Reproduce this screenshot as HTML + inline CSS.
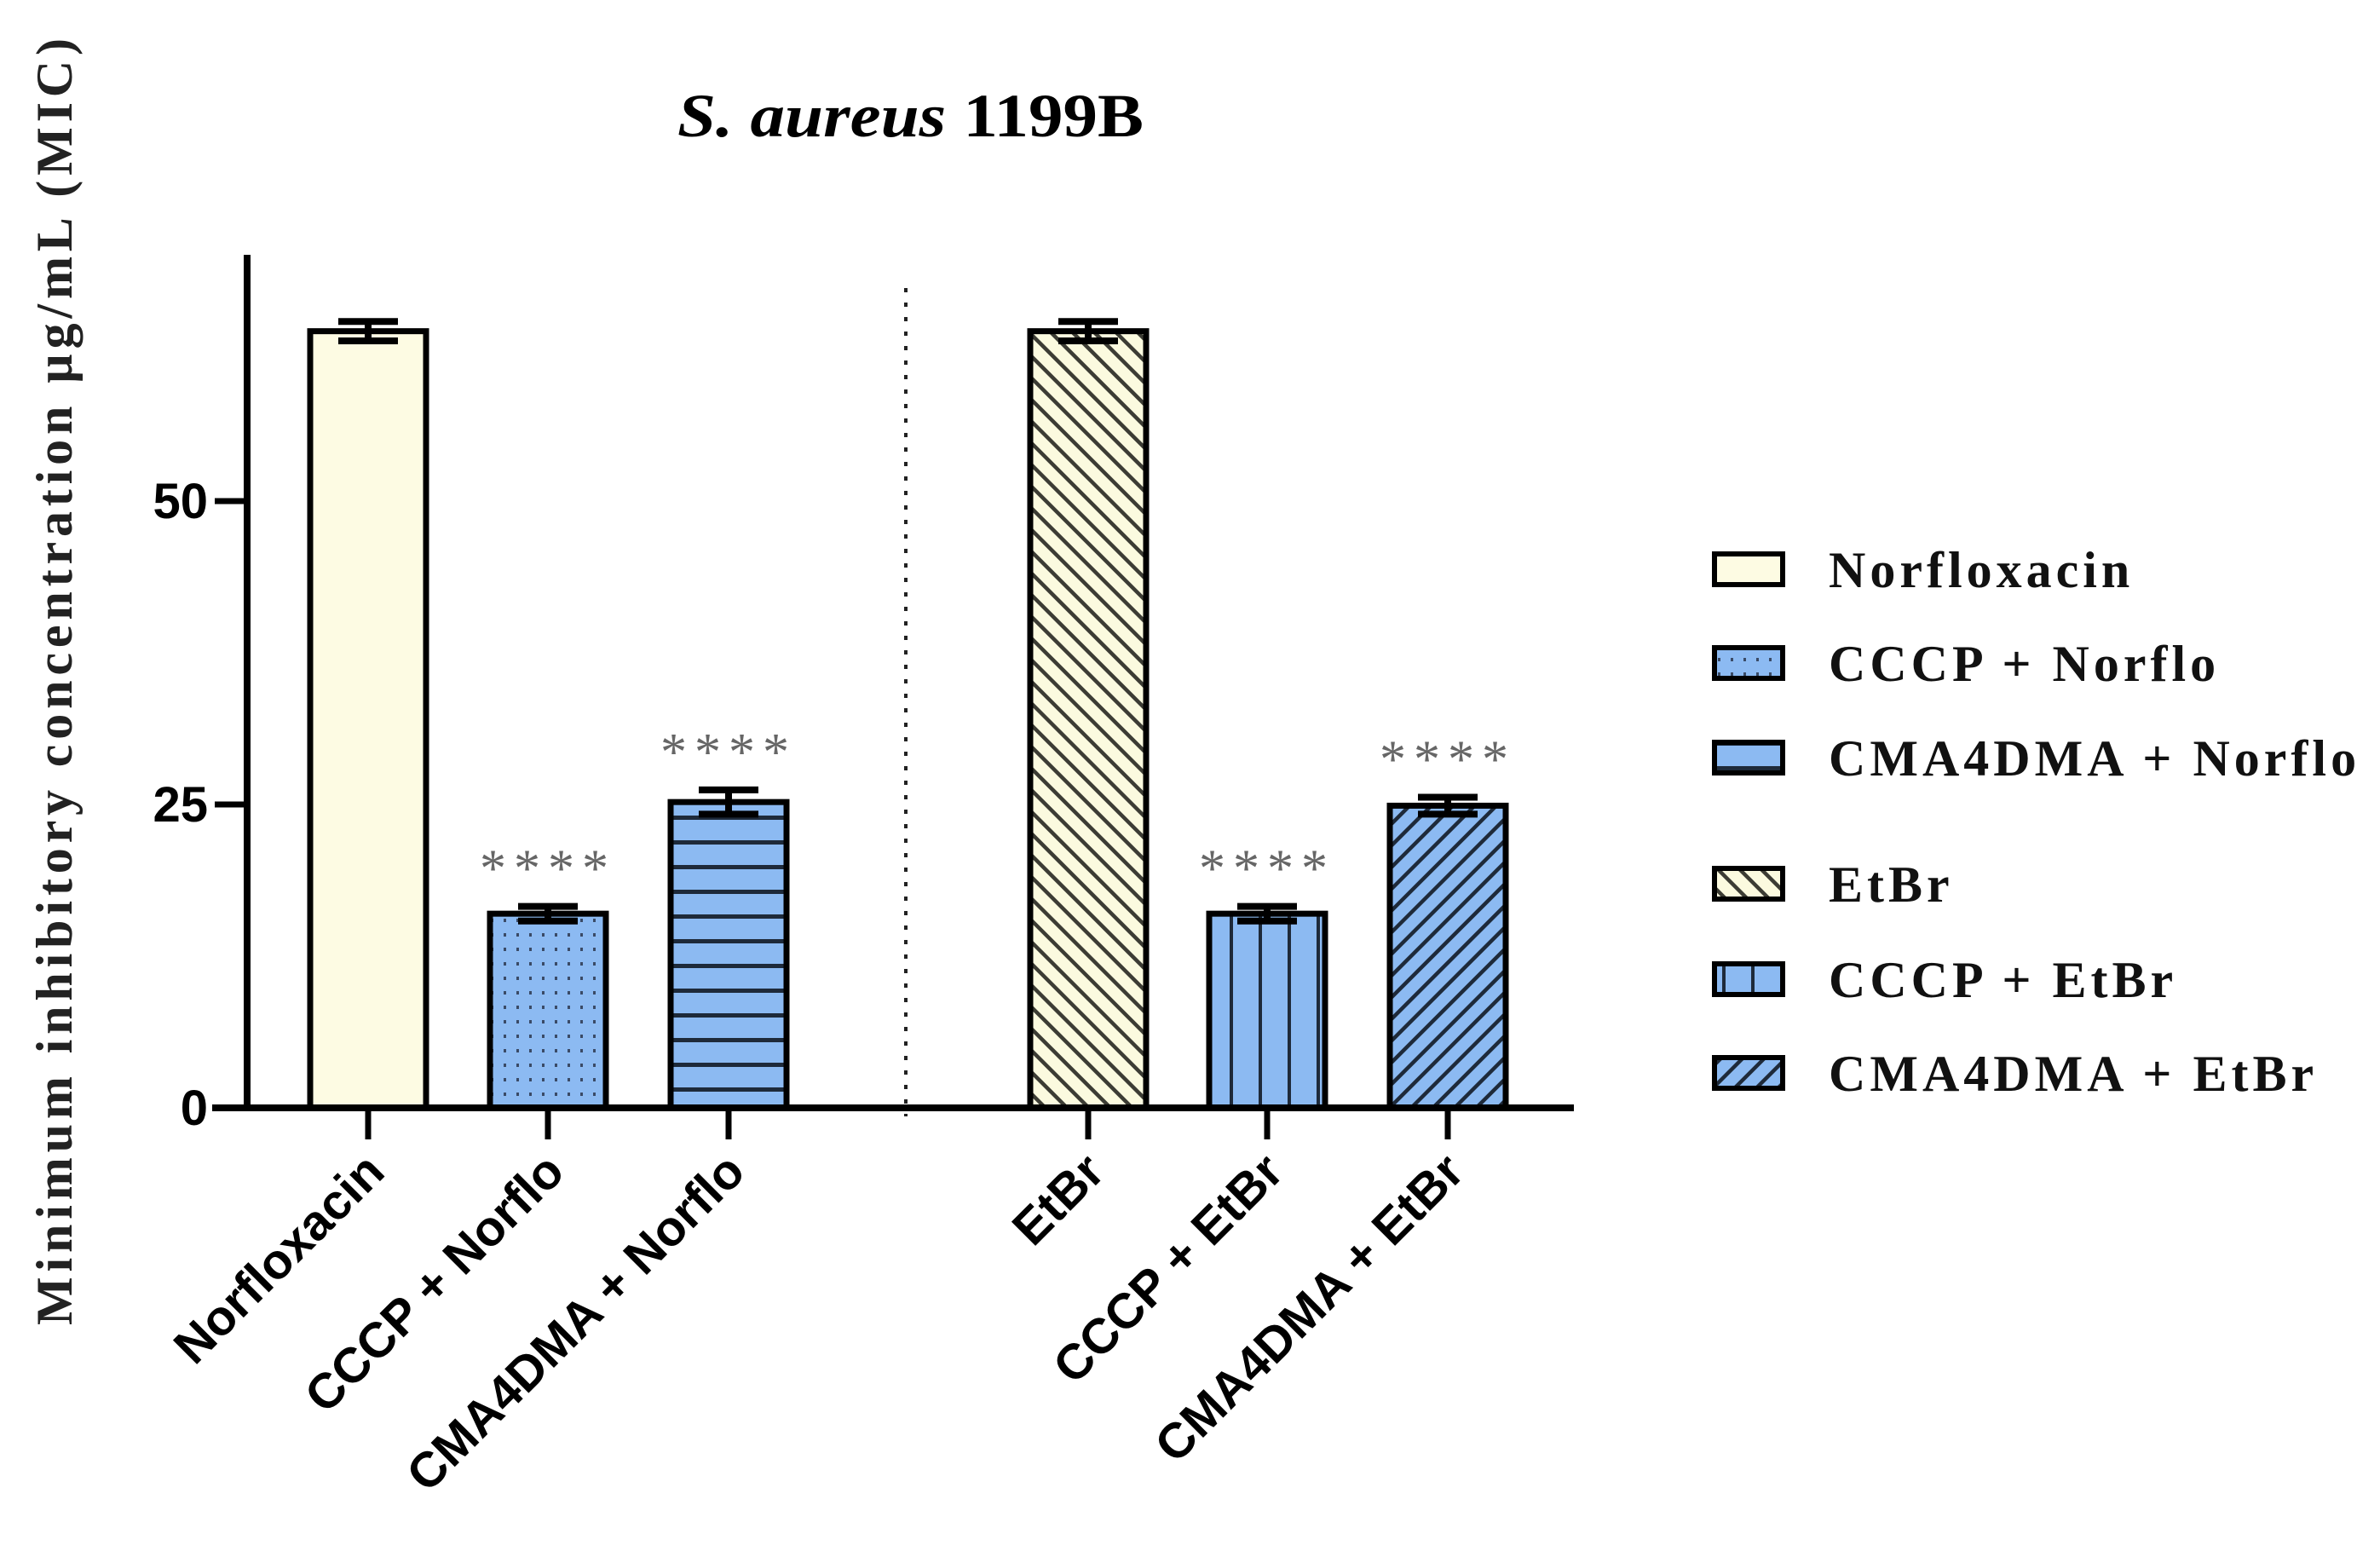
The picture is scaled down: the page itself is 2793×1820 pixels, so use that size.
<!DOCTYPE html>
<html><head><meta charset="utf-8"><style>
html,body{margin:0;padding:0;background:#fff;}
svg{display:block;}
</style></head><body>
<svg id="chart" width="2793" height="1820" viewBox="0 0 2793 1820" xmlns="http://www.w3.org/2000/svg">
<defs>
<pattern id="p-dots" patternUnits="userSpaceOnUse" width="15" height="17"><rect width="15" height="17" fill="#8cbaf2"/><rect x="6" y="7" width="3" height="4" fill="#3a4a66"/></pattern>
<pattern id="p-hlines" patternUnits="userSpaceOnUse" width="20" height="29"><rect width="20" height="29" fill="#8cbaf2"/><rect y="0" width="20" height="5" fill="#1e2a3a"/></pattern>
<pattern id="p-vlines" patternUnits="userSpaceOnUse" width="34" height="20"><rect width="34" height="20" fill="#8cbaf2"/><rect x="15" width="4" height="20" fill="#1e2a3a"/></pattern>
<pattern id="p-back" patternUnits="userSpaceOnUse" width="18" height="18" patternTransform="rotate(-45)"><rect width="18" height="18" fill="#fbfadf"/><rect width="4.5" height="18" fill="#3c3c34"/></pattern>
<pattern id="p-fwd" patternUnits="userSpaceOnUse" width="18" height="18" patternTransform="rotate(45)"><rect width="18" height="18" fill="#8cbaf2"/><rect width="4.5" height="18" fill="#1e2a3a"/></pattern>
</defs>
<g id="plot"></g>
</svg>
<script>
const categories = ["Norfloxacin","CCCP + Norflo","CMA4DMA + Norflo","EtBr","CCCP + EtBr","CMA4DMA + EtBr"];
const values = [64, 16, 25.2, 64, 16, 24.9];
const errors = [0.8, 0.6, 1.0, 0.8, 0.6, 0.7];
const stars = ["", "****", "****", "", "****", "****"];
const fills = ["#fdfbe3","url(#p-dots)","url(#p-hlines)","url(#p-back)","url(#p-vlines)","url(#p-fwd)"];
const yTicks = [0, 25, 50];

const NS = "http://www.w3.org/2000/svg";
const g = document.getElementById('plot');
const y0 = 1300, pxPerUnit = 14.24;
function yScale(v){ return y0 - v*pxPerUnit; }
const xCenters = [432, 643, 855, 1277, 1487, 1699];
function xScale(i){ return xCenters[i]; }
const barW = 136;
function mk(tag, attrs, parent){ const e=document.createElementNS(NS,tag); for(const k in attrs) e.setAttribute(k,attrs[k]); (parent||g).appendChild(e); return e; }

let t = mk('text',{x:795,y:160,'font-family':'Liberation Serif, serif','font-size':72,'font-weight':'bold',textLength:547,lengthAdjust:'spacingAndGlyphs'});


const it = document.createElementNS(NS,'tspan'); it.setAttribute('font-style','italic'); it.textContent='S. aureus '; t.appendChild(it);
const nt = document.createElementNS(NS,'tspan'); nt.textContent='1199B'; t.appendChild(nt);

let yt = mk('text',{x:0,y:0,transform:'translate(84,800) rotate(-90)','text-anchor':'middle','font-family':'Liberation Serif, serif','font-size':60,'font-weight':'bold',fill:'#222',textLength:1510,lengthAdjust:'spacing'});


yt.textContent='Minimum inhibitory concentration µg/mL (MIC)';

let dv = mk('line',{x1:1063,y1:338,x2:1063,y2:1310,stroke:'#222','stroke-width':4,'stroke-dasharray':'5 12'});



categories.forEach((c,i)=>{
  const x = xScale(i)-barW/2, top=yScale(values[i]);
  const r = mk('rect',{x:x,y:top,width:barW,height:y0-top,fill:fills[i],stroke:'#000','stroke-width':7});
  
  
  const eh = yScale(values[i]+errors[i]), el = yScale(values[i]-errors[i]);
  const eb = mk('path',{d:`M${xScale(i)} ${eh} V${el} M${xScale(i)-35} ${eh} H${xScale(i)+35} M${xScale(i)-35} ${el} H${xScale(i)+35}`,stroke:'#000','stroke-width':8,fill:'none'});
  
  
  if(stars[i]){
    const s = mk('text',{x:xScale(i),y:eh-24,'text-anchor':'middle','font-family':'Liberation Serif, serif','font-size':62,fill:'#666','letter-spacing':9});
    
    
    s.textContent=stars[i];
  }
  const tk = mk('line',{x1:xScale(i),y1:y0,x2:xScale(i),y2:1337,stroke:'#000','stroke-width':7});
  
  
  const lb = mk('text',{x:0,y:0,transform:`translate(${xScale(i)+22},1378) rotate(-45)`,'text-anchor':'end','font-family':'Liberation Sans, sans-serif','font-size':58,'font-weight':'bold'});
  
  
  lb.textContent=c;
});

let ya = mk('line',{x1:290,y1:299,x2:290,y2:1304,stroke:'#000','stroke-width':8});


let xa = mk('line',{x1:249,y1:1300,x2:1847,y2:1300,stroke:'#000','stroke-width':8});


yTicks.forEach(v=>{
  const tk = mk('line',{x1:252,y1:yScale(v),x2:290,y2:yScale(v),stroke:'#000','stroke-width':7});
  
  
  const tl = mk('text',{x:244,y:yScale(v)+20,'text-anchor':'end','font-family':'Liberation Sans, sans-serif','font-size':58,'font-weight':'bold'});
  
  
  tl.textContent=v;
});

const legendY = [668,778,889,1037,1149,1259];
categories.forEach((c,i)=>{
  const r = mk('rect',{x:2012,y:legendY[i]-18,width:80,height:36,fill:fills[i],stroke:'#000','stroke-width':6});
  
  
  const tx = mk('text',{x:2146,y:legendY[i]+21,'font-family':'Liberation Serif, serif','font-size':60,'font-weight':'bold','letter-spacing':5,fill:'#111'});
  
  
  tx.textContent=c;
});
</script>
</body></html>
